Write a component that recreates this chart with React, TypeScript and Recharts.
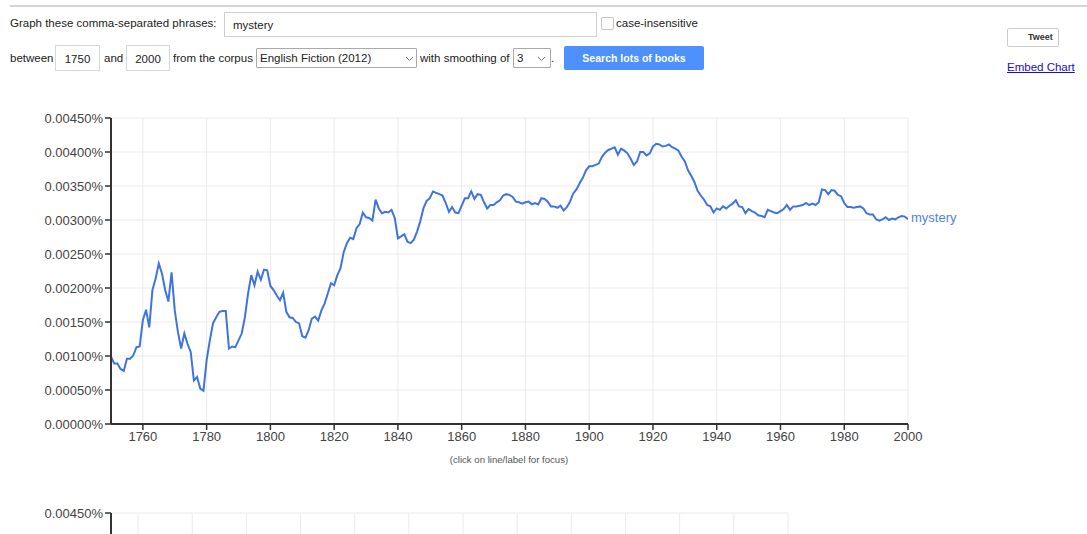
import React from 'react';
import { LineChart, Line, XAxis, YAxis, CartesianGrid } from 'recharts';

// Frequency of "mystery" in thousandths of a percent (0.001%), one value per year from 1750 to 2000
const startYear = 1750;
const mysteryValues: number[] = [
  0.99, 0.89, 0.89, 0.81, 0.78, 0.96, 0.96, 1.01, 1.13, 1.14,
  1.53, 1.68, 1.42, 1.97, 2.14, 2.36, 2.21, 1.97, 1.80, 2.23,
  1.67, 1.35, 1.11, 1.33, 1.18, 1.06, 0.64, 0.69, 0.52, 0.49,
  0.94, 1.23, 1.48, 1.57, 1.65, 1.66, 1.66, 1.11, 1.14, 1.13,
  1.23, 1.33, 1.57, 1.92, 2.19, 2.04, 2.24, 2.12, 2.27, 2.26,
  2.03, 1.97, 1.89, 1.82, 1.93, 1.65, 1.57, 1.56, 1.50, 1.48,
  1.29, 1.27, 1.38, 1.55, 1.58, 1.52, 1.67, 1.77, 1.92, 2.07,
  2.04, 2.19, 2.29, 2.53, 2.66, 2.74, 2.72, 2.88, 2.94, 3.11,
  3.04, 3.03, 2.99, 3.30, 3.17, 3.10, 3.12, 3.11, 3.15, 3.03,
  2.73, 2.76, 2.79, 2.68, 2.66, 2.71, 2.83, 2.98, 3.17, 3.28,
  3.32, 3.42, 3.40, 3.38, 3.36, 3.25, 3.12, 3.19, 3.11, 3.10,
  3.21, 3.32, 3.32, 3.42, 3.31, 3.38, 3.37, 3.26, 3.17, 3.22,
  3.22, 3.26, 3.29, 3.36, 3.38, 3.37, 3.34, 3.27, 3.26, 3.24,
  3.26, 3.27, 3.23, 3.25, 3.23, 3.32, 3.31, 3.27, 3.20, 3.20,
  3.18, 3.21, 3.14, 3.19, 3.27, 3.39, 3.45, 3.54, 3.62, 3.73,
  3.79, 3.79, 3.81, 3.83, 3.93, 3.99, 4.03, 4.05, 4.07, 3.96,
  4.05, 4.02, 3.98, 3.90, 3.81, 3.86, 4.00, 4.00, 3.95, 3.98,
  4.08, 4.12, 4.11, 4.08, 4.09, 4.11, 4.07, 4.05, 4.02, 3.93,
  3.86, 3.73, 3.65, 3.56, 3.43, 3.36, 3.30, 3.22, 3.20, 3.11,
  3.17, 3.15, 3.20, 3.17, 3.21, 3.24, 3.29, 3.20, 3.19, 3.10,
  3.16, 3.13, 3.11, 3.07, 3.06, 3.04, 3.15, 3.13, 3.11, 3.10,
  3.13, 3.16, 3.22, 3.15, 3.20, 3.20, 3.21, 3.22, 3.25, 3.22,
  3.24, 3.22, 3.26, 3.45, 3.44, 3.38, 3.44, 3.43, 3.37, 3.35,
  3.25, 3.19, 3.19, 3.18, 3.19, 3.20, 3.17, 3.10, 3.08, 3.08,
  3.01, 2.99, 3.01, 3.04, 3.00, 3.02, 3.01, 3.04, 3.06, 3.05,
  3.01,
];

const xTicks = [1760, 1780, 1800, 1820, 1840, 1860, 1880, 1900, 1920, 1940, 1960, 1980, 2000];
const yTicks = [0, 0.5, 1, 1.5, 2, 2.5, 3, 3.5, 4, 4.5];
const secondYTicks = [4.5];
const seriesName = 'mystery';

const data = mysteryValues.map((v, i) => ({ year: startYear + i, value: v }));

const FONT = 'Arial, "Liberation Sans", sans-serif';
const LINE_COLOR = '#3f74e0';
const LABEL_COLOR = '#4f83ea';
const UI_FONT = 11.5;

const fmtY = (v: number) => (v / 1000).toFixed(5) + '%';

const EndLabel = (props: any) => {
  const { x, y, index } = props;
  if (index !== mysteryValues.length - 1) return null;
  return (
    <text x={x + 3} y={y} dy={3} fill={LABEL_COLOR} fontSize={13} fontFamily={FONT}>
      {seriesName}
    </text>
  );
};

const EmptyTick = () => <g />;

const Chevron = ({ left }: { left: number }) => (
  <svg width={9} height={6} style={{ position: 'absolute', left, top: 7 }}>
    <polyline points="1,1 4.5,4.5 8,1" fill="none" stroke="#777" strokeWidth={1} />
  </svg>
);

const txt = (left: number, top: number, s: string, extra: React.CSSProperties = {}) => (
  <div style={{ position: 'absolute', left, top, fontSize: UI_FONT, lineHeight: '14px', color: '#222', whiteSpace: 'nowrap', ...extra }}>{s}</div>
);

const tickStyle = { fill: '#444', fontSize: 13, fontFamily: FONT };

export default function App() {
  return (
    <div style={{ position: 'absolute', left: 0, top: 0, width: 1087, height: 534, overflow: 'hidden', background: '#fff', fontFamily: FONT }}>
      <div style={{ position: 'absolute', left: 10, top: 5, width: 1077, height: 2, background: '#d4d4d4' }} />

      {txt(10, 16, 'Graph these comma-separated phrases:')}
      <div style={{ position: 'absolute', left: 224, top: 12, width: 371, height: 23, border: '1px solid #cfcfcf' }}>
        <div style={{ position: 'absolute', left: 8, top: 5, fontSize: UI_FONT, lineHeight: '14px', color: '#222' }}>mystery</div>
      </div>
      <div style={{ position: 'absolute', left: 601, top: 17, width: 11, height: 11, border: '1px solid #c4c4c4', borderRadius: 2 }} />
      {txt(616, 16, 'case-insensitive')}

      {txt(10, 51, 'between')}
      <div style={{ position: 'absolute', left: 55, top: 45, width: 43, height: 24, border: '1px solid #d8d8d8' }}>
        <div style={{ position: 'absolute', left: 0, width: 43, top: 6, textAlign: 'center', fontSize: UI_FONT, lineHeight: '14px', color: '#222' }}>1750</div>
      </div>
      {txt(104, 51, 'and')}
      <div style={{ position: 'absolute', left: 126, top: 45, width: 42, height: 24, border: '1px solid #d8d8d8' }}>
        <div style={{ position: 'absolute', left: 0, width: 42, top: 6, textAlign: 'center', fontSize: UI_FONT, lineHeight: '14px', color: '#222' }}>2000</div>
      </div>
      {txt(173, 51, 'from the corpus')}
      <div style={{ position: 'absolute', left: 256, top: 48, width: 159, height: 18, border: '1px solid #a9a9a9', borderRadius: 1 }}>
        <div style={{ position: 'absolute', left: 3, top: 2, fontSize: UI_FONT, lineHeight: '14px', color: '#222', whiteSpace: 'nowrap' }}>English Fiction (2012)</div>
        <Chevron left={148} />
      </div>
      {txt(420, 51, 'with smoothing of')}
      <div style={{ position: 'absolute', left: 513, top: 48, width: 36, height: 18, border: '1px solid #a9a9a9', borderRadius: 1 }}>
        <div style={{ position: 'absolute', left: 3, top: 2, fontSize: UI_FONT, lineHeight: '14px', color: '#222' }}>3</div>
        <Chevron left={23} />
      </div>
      {txt(551, 51, '.')}
      <div style={{ position: 'absolute', left: 564, top: 46, width: 140, height: 24, background: '#4d90fe', borderRadius: 2 }}>
        <div style={{ position: 'absolute', left: 0, width: 140, top: 5, textAlign: 'center', fontSize: 10.5, lineHeight: '14px', color: '#fff', fontWeight: 'bold' }}>Search lots of books</div>
      </div>

      <div style={{ position: 'absolute', left: 1007, top: 28, width: 50, height: 17, border: '1px solid #cccccc', borderRadius: 2 }}>
        <div style={{ position: 'absolute', left: 20, top: 3, fontSize: 9, lineHeight: '11px', color: '#333', fontWeight: 'bold' }}>Tweet</div>
      </div>
      {txt(1007, 60, 'Embed Chart', { color: '#1a0dcc', textDecoration: 'underline' })}

      <div style={{ position: 'absolute', left: 0, top: 0 }}>
        <LineChart width={1087} height={470} data={data} margin={{ top: 118, right: 179, bottom: 16, left: 11 }}>
          <CartesianGrid stroke="#ebebeb" strokeWidth={1} />
          <XAxis
            dataKey="year"
            type="number"
            domain={[1750, 2000]}
            ticks={xTicks}
            interval={0}
            height={30}
            tick={tickStyle}
            axisLine={{ stroke: '#333', strokeWidth: 2 }}
            tickLine={{ stroke: '#333', strokeWidth: 1.5 }}
            allowDataOverflow
          />
          <YAxis
            type="number"
            domain={[0, 4.5]}
            ticks={yTicks}
            interval={0}
            width={100}
            tick={tickStyle}
            tickFormatter={fmtY}
            axisLine={{ stroke: '#333', strokeWidth: 2 }}
            tickLine={{ stroke: '#333', strokeWidth: 1.5 }}
          />
          <Line
            type="linear"
            dataKey="value"
            stroke={LINE_COLOR}
            strokeWidth={2}
            dot={false}
            isAnimationActive={false}
            label={<EndLabel />}
          />
        </LineChart>
      </div>

      <div style={{ position: 'absolute', left: 0, top: 454, width: 1018, textAlign: 'center', fontSize: 9.6, lineHeight: '12px', color: '#555' }}>
        (click on line/label for focus)
      </div>

      <div style={{ position: 'absolute', left: 0, top: 503 }}>
        <LineChart width={1087} height={340} data={data} margin={{ top: 10, right: 299, bottom: 0, left: 11 }}>
          <CartesianGrid stroke="#ebebeb" strokeWidth={1} />
          <XAxis
            dataKey="year"
            type="number"
            domain={[1750, 2000]}
            ticks={xTicks}
            interval={0}
            height={30}
            tick={<EmptyTick />}
            axisLine={{ stroke: '#333', strokeWidth: 2 }}
            tickLine={{ stroke: '#333', strokeWidth: 1.5 }}
          />
          <YAxis
            type="number"
            domain={[0, 4.5]}
            ticks={secondYTicks}
            interval={0}
            width={100}
            tick={tickStyle}
            tickFormatter={fmtY}
            axisLine={{ stroke: '#333', strokeWidth: 2 }}
            tickLine={{ stroke: '#333', strokeWidth: 1.5 }}
          />
          <Line type="linear" dataKey="value" stroke={LINE_COLOR} strokeWidth={2} dot={false} isAnimationActive={false} />
        </LineChart>
      </div>
    </div>
  );
}
